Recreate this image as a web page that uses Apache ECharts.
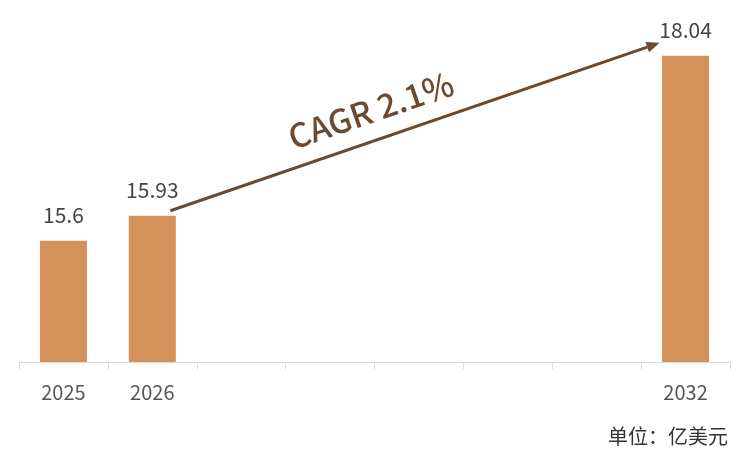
<!DOCTYPE html>
<html>
<head>
<meta charset="utf-8">
<script src="https://cdn.jsdelivr.net/npm/echarts@6/dist/echarts.min.js"></script>
<style>
  html, body { margin: 0; padding: 0; background: #fff; }
  #main { width: 750px; height: 461px; }
</style>
</head>
<body>
<div id="main"></div>
<script>
// data
var years = ['2025', '2026', '2027', '2028', '2029', '2030', '2031', '2032'];
var values = [15.6, 15.93, null, null, null, null, null, 18.04];
var cagrText = 'CAGR 2.1%';
var unitText = '单位：亿美元';

var barColor = '#D4925A';
var arrowColor = '#6B4A2F';
var font = '"Noto Sans CJK SC", "Noto Sans", sans-serif';

var chart = echarts.init(document.getElementById('main'));

var option = {
  backgroundColor: '#fff',
  animation: false,
  grid: { left: 19, right: 20, top: 21, bottom: 99 },
  xAxis: {
    type: 'category',
    data: years,
    axisLine: { lineStyle: { color: '#d9d9d9', width: 1 } },
    axisTick: { show: true, length: 7, lineStyle: { color: '#d9d9d9' } },
    axisLabel: {
      margin: 20,
      color: '#555',
      fontSize: 20,
      fontFamily: font,
      formatter: function (v, i) { return values[i] == null ? '' : v; }
    }
  },
  yAxis: {
    type: 'value',
    min: 14,
    max: 18.5,
    show: false,
    splitLine: { show: false }
  },
  series: [{
    type: 'bar',
    data: values,
    barWidth: 47,
    itemStyle: { color: barColor },
    label: {
      show: true,
      position: 'top',
      distance: 15,
      color: '#444',
      fontSize: 21,
      fontFamily: font
    }
  }]
};
chart.setOption(option);

// CAGR arrow from the 2026 bar to the 2032 bar
var p0 = chart.convertToPixel({ gridIndex: 0 }, [1, values[1]]);
var p1 = chart.convertToPixel({ gridIndex: 0 }, [7, values[7]]);
var sx = p0[0] + 18, sy = p0[1] - 5;
var ex = p1[0] - 26, ey = p1[1] - 13;
var dx = ex - sx, dy = ey - sy;
var len = Math.sqrt(dx * dx + dy * dy);
var ux = dx / len, uy = dy / len;
var nx = uy, ny = -ux; // normal pointing up
var head = 13, hw = 5.5;
var bx = ex - ux * head, by = ey - uy * head;
var angle = Math.atan2(-dy, dx);
var t = 0.43;
var tx = sx + dx * t + nx * 30, ty = sy + dy * t + ny * 30;

chart.setOption({
  graphic: [{
    type: 'text',
    right: 22,
    bottom: 15,
    style: { text: unitText, fill: '#333', font: '20px ' + font }
  }, {
    type: 'line',
    shape: { x1: sx, y1: sy, x2: bx, y2: by },
    style: { stroke: arrowColor, lineWidth: 3 }
  }, {
    type: 'polygon',
    shape: { points: [[ex, ey], [bx + nx * hw, by + ny * hw], [bx - nx * hw, by - ny * hw]] },
    style: { fill: arrowColor }
  }, {
    type: 'text',
    x: tx,
    y: ty,
    rotation: angle,
    style: {
      text: cagrText,
      fill: arrowColor,
      font: '500 33px ' + font,
      align: 'center',
      verticalAlign: 'middle'
    }
  }]
});
</script>
</body>
</html>
